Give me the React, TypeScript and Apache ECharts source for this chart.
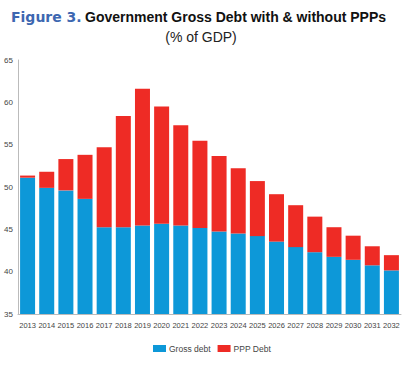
import React, { useEffect, useRef } from "react";
import * as echarts from "echarts";

const years = ["2013","2014","2015","2016","2017","2018","2019","2020","2021","2022","2023","2024","2025","2026","2027","2028","2029","2030","2031","2032"];
const grossDebt = [51.1, 49.9, 49.6, 48.6, 45.25, 45.25, 45.45, 45.65, 45.45, 45.15, 44.75, 44.5, 44.2, 43.55, 42.9, 42.3, 41.75, 41.4, 40.75, 40.15];
const pppDebt = [0.25, 1.9, 3.7, 5.2, 9.45, 13.15, 16.15, 13.85, 11.85, 10.3, 8.9, 7.7, 6.5, 5.6, 4.95, 4.2, 3.5, 2.85, 2.25, 1.8];
const seriesNames = ["Gross debt", "PPP Debt"];

const narrow = "'Liberation Sans', Arial, sans-serif";

export default function App() {
  const ref = useRef<HTMLDivElement>(null);
  useEffect(() => {
    if (!ref.current) return;
    const chart = echarts.init(ref.current, null, { renderer: "svg" });
    chart.setOption({
      animation: false,
      backgroundColor: "#ffffff",
      graphic: [
        {
          type: "text",
          left: 11,
          top: 10,
          style: {
            text: "{a|Figure 3.} {b|Government Gross Debt with & without PPPs}",
            rich: {
              a: { fontFamily: "DejaVu Sans", fontWeight: "bold", fontSize: 14, fill: "#3d67b1" },
              b: { fontFamily: "Liberation Sans, Arial, sans-serif", fontWeight: "bold", fontSize: 14, fill: "#111" },
            },
          },
        },
        {
          type: "text",
          x: 201,
          y: 30,
          style: {
            text: "(% of GDP)",
            fontFamily: "Liberation Sans, Arial, sans-serif",
            fontSize: 14,
            fill: "#222",
            textAlign: "center",
          },
        },
      ],
      grid: { left: 18, right: 16, top: 60, bottom: 53, containLabel: false },
      legend: {
        data: seriesNames,
        left: 148,
        top: 339,
        itemWidth: 13,
        itemHeight: 7,
        itemGap: 7,
        icon: "rect",
        textStyle: { fontFamily: narrow, fontSize: 8.5, color: "#444", padding: [0, 0, 0, -2] },
      },
      xAxis: {
        type: "category",
        data: years,
        axisLine: { show: true, lineStyle: { color: "#bbb", width: 1 } },
        axisTick: { show: false },
        axisLabel: { interval: 0, fontFamily: narrow, fontSize: 7.5, color: "#444", margin: 7 },
      },
      yAxis: {
        type: "value",
        min: 35,
        max: 65,
        interval: 5,
        splitLine: { show: false },
        axisLine: { show: true, lineStyle: { color: "#bbb", width: 1 } },
        axisTick: { show: false },
        axisLabel: { fontFamily: narrow, fontSize: 8, color: "#444", margin: 5 },
      },
      series: [
        {
          name: seriesNames[0],
          type: "bar",
          stack: "debt",
          data: grossDebt,
          barWidth: 15,
          itemStyle: { color: "#0d98d8" },
        },
        {
          name: seriesNames[1],
          type: "bar",
          stack: "debt",
          data: pppDebt,
          barWidth: 15,
          itemStyle: { color: "#ee2b25" },
        },
      ],
    });
    return () => chart.dispose();
  }, []);
  return <div ref={ref} style={{ position: "fixed", left: 0, top: 0, width: 417, height: 367 }} />;
}
